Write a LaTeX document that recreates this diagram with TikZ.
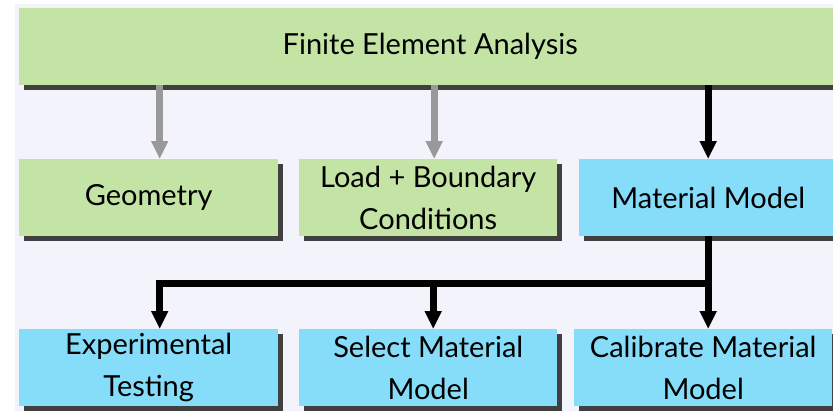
\documentclass[tikz,border=0pt]{standalone}
\usepackage{fontspec}
\setmainfont{Lato}
\usetikzlibrary{shadows,arrows.meta,calc}

\definecolor{bgpanel}{HTML}{F3F3FC}
\definecolor{boxgreen}{HTML}{C4E4A6}
\definecolor{boxblue}{HTML}{86DDFA}
\definecolor{boxshade}{HTML}{404040}
\definecolor{flowgray}{HTML}{999999}

\begin{document}
\begin{tikzpicture}[x=1pt,y=1pt,
  box/.style={draw=none, anchor=north west, minimum height=77pt, inner sep=0pt,
    align=center, font=\fontsize{29}{42}\selectfont,
    drop shadow={shadow xshift=5pt, shadow yshift=-5pt, opacity=1, fill=boxshade}},
  greenbox/.style={box, fill=boxgreen},
  bluebox/.style={box, fill=boxblue},
  flow/.style={line width=7pt, -{Triangle[width=16pt,length=18pt]}},
  minorflow/.style={flow, draw=flowgray},
  majorflow/.style={flow, draw=black}
]
\useasboundingbox (0,0) rectangle (833,-410);
\clip (0,0) rectangle (833,-410);
\fill[bgpanel] (15,-4) rectangle (840,-415);

% analysis header
\node[greenbox, minimum width=822pt] (fea) at (19,-8) {Finite Element Analysis};

% inputs to the analysis
\node[greenbox, minimum width=259pt] (geo)  at (19,-159)  {Geometry};
\node[greenbox, minimum width=258pt] (load) at (299,-159) {Load + Boundary\\Conditions};
\node[bluebox,  minimum width=258pt] (mat)  at (579,-159) {Material Model};

% material model workflow
\node[bluebox, minimum width=259pt] (exp) at (19,-329)  {Experimental\\Testing};
\node[bluebox, minimum width=258pt] (sel) at (299,-329) {Select Material\\Model};
\node[bluebox, minimum width=258pt] (cal) at (574,-329) {Calibrate Material\\Model};

% arrow columns
\coordinate (gcol) at ($(geo.north)+(11,0)$);
\coordinate (lcol) at ($(load.north)+(6,0)$);
\coordinate (scol) at ($(sel.north)+(5,0)$);
\coordinate (split) at ($(mat.south)+(0,-47)$);

\draw[minorflow] (fea.south -| gcol) -- (gcol);
\draw[minorflow] (fea.south -| lcol) -- (lcol);
\draw[majorflow] (fea.south -| mat.north) -- (mat.north);

\draw[majorflow] (mat.south) -- (mat.south |- cal.north);
\draw[majorflow] (split) -| (exp.north -| gcol);
\draw[majorflow] (split -| scol) -- (scol);
\end{tikzpicture}
\end{document}
